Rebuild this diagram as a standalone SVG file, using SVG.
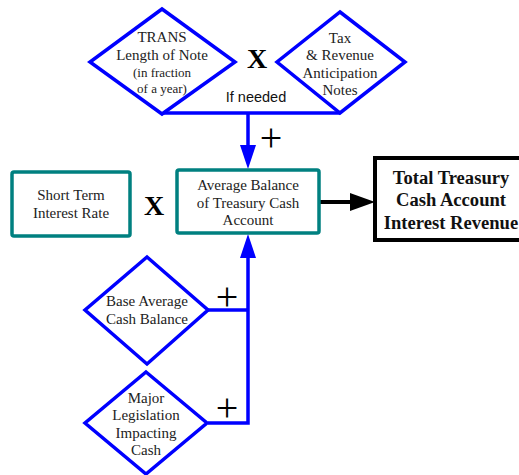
<svg xmlns="http://www.w3.org/2000/svg" width="519" height="475" viewBox="0 0 519 475">
<style>
.dia{fill:#fff;stroke:#0000ff;stroke-width:3.5;stroke-linejoin:miter}
.box{fill:#fff;stroke:#008080;stroke-width:3.5}
.tot{fill:#fff;stroke:#000;stroke-width:4}
.t{font-family:"Liberation Serif","Times New Roman",serif;font-size:15px;fill:#222;text-anchor:middle}
.s{font-size:13px}
.b{font-family:"Liberation Serif","Times New Roman",serif;font-size:18.6px;font-weight:bold;fill:#111;text-anchor:middle}
.x{font-family:"Liberation Serif","Times New Roman",serif;font-size:28px;font-weight:bold;fill:#000;text-anchor:middle}
.p{font-family:"Liberation Serif","Times New Roman",serif;font-size:40px;fill:#000;text-anchor:middle}
.lab{font-family:"Liberation Sans",Arial,sans-serif;font-size:14.5px;fill:#111;text-anchor:middle}
.bl{fill:none;stroke:#0000ff;stroke-width:3.5}
</style>
<g id="connectors">
<polyline class="bl" points="162,113 340,113"/>
<line class="bl" x1="248" y1="113" x2="248" y2="148"/>
<polygon points="240,145 256,145 248,169" fill="#0000ff"/>
<polyline class="bl" points="208,423 248,423 248,255"/>
<line class="bl" x1="208" y1="310" x2="248" y2="310"/>
<polygon points="240,258 256,258 248,234" fill="#0000ff"/>
<line x1="319" y1="202" x2="355" y2="202" stroke="#000" stroke-width="4"/>
<polygon points="350,193 375,202 350,211" fill="#000"/>
</g>
<g id="trans">
<polygon class="dia" points="162,9 235,62 162,114 90,62"/>
<text class="t" x="162" y="42">TRANS</text>
<text class="t" x="162" y="60">Length of Note</text>
<text class="t s" x="162" y="77">(in fraction</text>
<text class="t s" x="162" y="93">of a year)</text>
</g>
<g id="tax">
<polygon class="dia" points="340,12 405,62 340,113 277,62"/>
<text class="t" x="340" y="43">Tax</text>
<text class="t" x="340" y="60">&amp; Revenue</text>
<text class="t" x="340" y="78">Anticipation</text>
<text class="t" x="340" y="95">Notes</text>
</g>
<text class="x" x="257" y="68">X</text>
<text class="lab" x="256" y="102">If needed</text>
<text class="p" x="271" y="151">+</text>
<g id="shortterm">
<rect class="box" x="12" y="172" width="118" height="64" rx="2"/>
<text class="t" x="71" y="200">Short Term</text>
<text class="t" x="71" y="218">Interest Rate</text>
</g>
<text class="x" x="154" y="215">X</text>
<g id="avgbalance">
<rect class="box" x="177" y="170" width="142" height="63" rx="2"/>
<text class="t" x="248" y="190">Average Balance</text>
<text class="t" x="248" y="208">of Treasury Cash</text>
<text class="t" x="248" y="225">Account</text>
</g>
<g id="total">
<rect class="tot" x="375" y="158" width="150" height="82"/>
<text class="b" x="451" y="184">Total Treasury</text>
<text class="b" x="451" y="206">Cash Account</text>
<text class="b" x="451" y="229">Interest Revenue</text>
</g>
<g id="base">
<polygon class="dia" points="147,257 208,310 147,364 85,310"/>
<text class="t" x="147" y="306">Base Average</text>
<text class="t" x="147" y="324">Cash Balance</text>
</g>
<text class="p" x="227" y="310">+</text>
<g id="major">
<polygon class="dia" points="146,372 207,423 146,474 85,423"/>
<text class="t" x="146" y="403">Major</text>
<text class="t" x="146" y="420">Legislation</text>
<text class="t" x="146" y="438">Impacting</text>
<text class="t" x="146" y="455">Cash</text>
</g>
<text class="p" x="227" y="421">+</text>
</svg>
